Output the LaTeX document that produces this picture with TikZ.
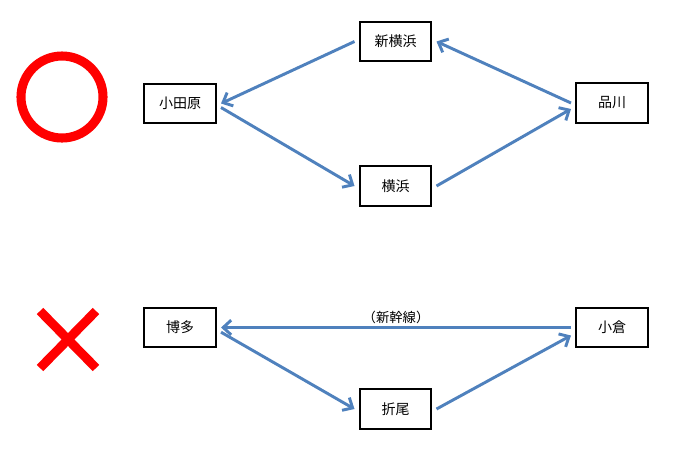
\documentclass[tikz,border=0pt]{standalone}
\usepackage{fontspec}
\setmainfont{Noto Sans CJK JP}
\usetikzlibrary{arrows.meta}
\definecolor{lineblue}{RGB}{79,129,189}

\begin{document}
\begin{tikzpicture}[x=0.75pt, y=-0.75pt,
  % === Node styles ===
  station/.style={
    draw, line width=1.5pt,
    minimum width=53.5pt, minimum height=29.5pt,
    inner sep=0pt, outer sep=4pt,
    font=\fontsize{10.5}{12}\selectfont
  },
  % === Arrow styles ===
  route/.style={-{Straight Barb[length=6pt, width=11pt]}, line width=2.2pt, lineblue},
  % === Mark styles ===
  judge/.style={red, line width=6.8pt},
  % === Label styles ===
  routelbl/.style={font=\fontsize{10}{11}\selectfont, text=black, inner sep=1.5pt},
]

\useasboundingbox (0,0) rectangle (684,451);

% =============================================
% Upper route (correct)
% =============================================
\node[station] (odawara)  at (180,103.5)   {小田原};
\node[station] (shinyoko) at (395.5,41.5)  {新横浜};
\node[station] (yokohama) at (395.5,186)   {横浜};
\node[station] (shinagawa) at (612,103)    {品川};

\draw[route] (shinyoko.west) -- (odawara.east);
\draw[route] ([yshift=-3pt]odawara.east) -- (yokohama.west);
\draw[route] (yokohama.east) -- ([yshift=-4.5pt]shinagawa.west);
\draw[route] (shinagawa.west) -- (shinyoko.east);

% =============================================
% Lower route (wrong)
% =============================================
\node[station] (hakata) at (180,327.5)  {博多};
\node[station] (orio)   at (395.5,409)  {折尾};
\node[station] (kokura) at (612,327.5)  {小倉};

\draw[route] (kokura.west) -- node[routelbl, above] {（新幹線）} (hakata.east);
\draw[route] ([yshift=-3.5pt]hakata.east) -- (orio.west);
\draw[route] (orio.east) -- ([yshift=-6pt]kokura.west);

% =============================================
% Marks
% =============================================
\draw[judge] (62,97) circle[radius=30.75pt];
\draw[judge] (40,311) -- (96,368) (96,311) -- (40,368);

\end{tikzpicture}
\end{document}
